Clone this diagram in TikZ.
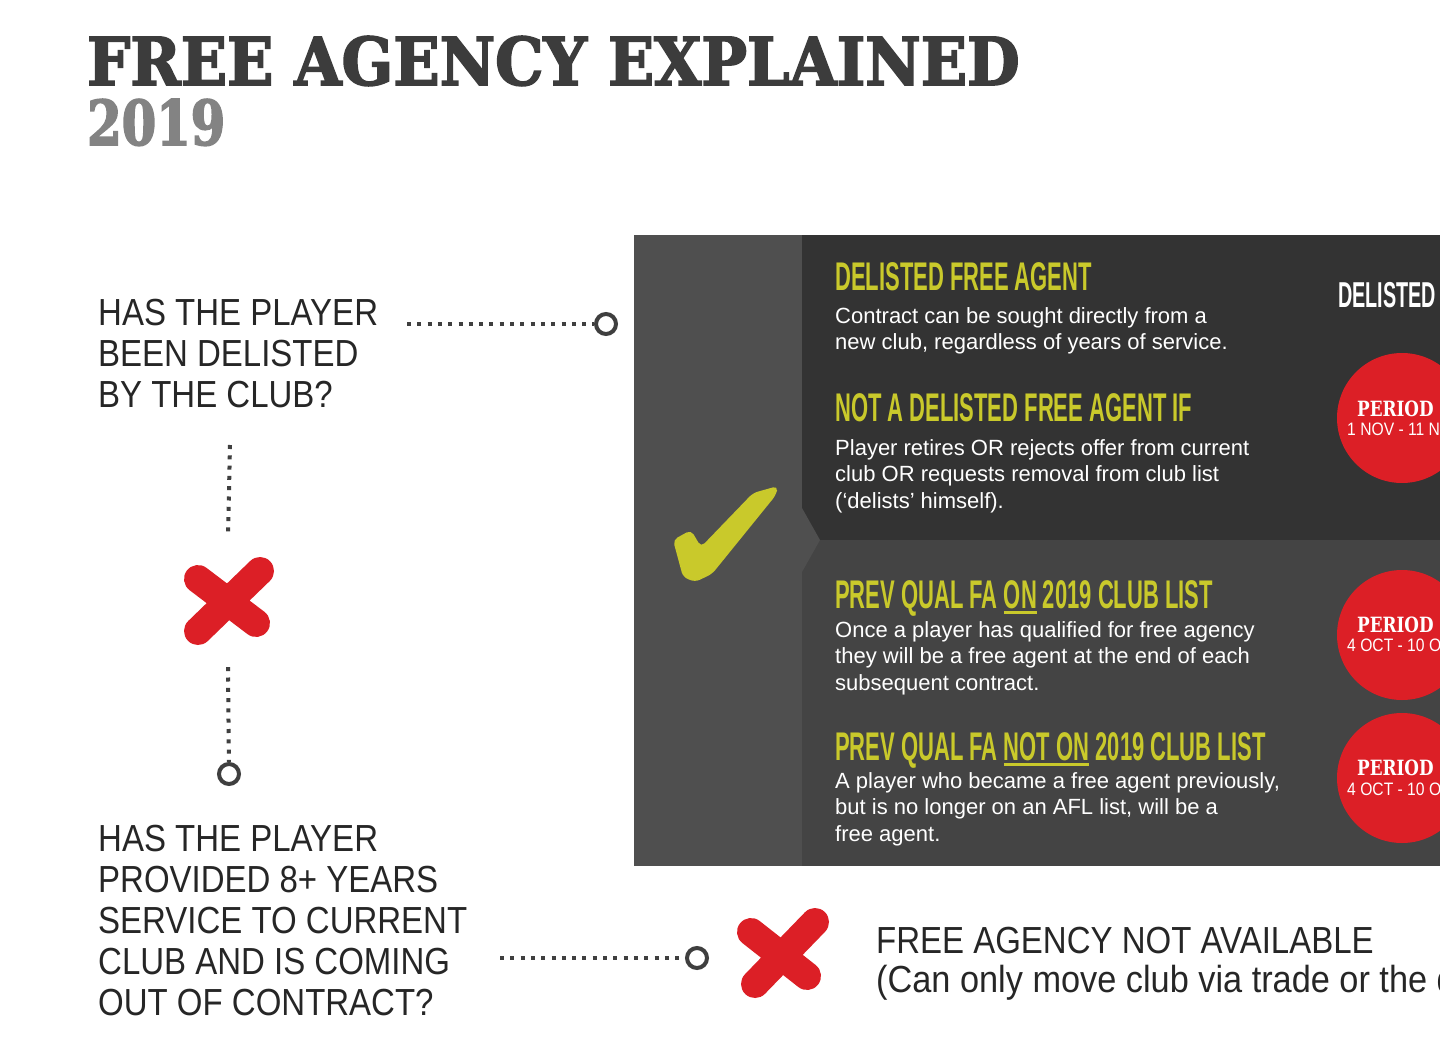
\documentclass[tikz,border=0pt]{standalone}
\usepackage{fontspec}
\setmainfont{Liberation Sans}
\newfontfamily\titlefont[FakeStretch=0.92,FakeBold=2.5]{DejaVu Serif}
\newfontfamily\yearfont[FakeStretch=0.8,FakeBold=2.5]{DejaVu Serif}
\newfontfamily\periodfont[FakeStretch=0.8]{DejaVu Serif}
\newfontfamily\headfont[FakeStretch=0.55]{Liberation Sans}
\newfontfamily\askfont[FakeStretch=0.875]{Liberation Sans}
\newfontfamily\notefont[FakeStretch=0.91]{Liberation Sans}
\newfontfamily\datefont[FakeStretch=0.87]{Liberation Sans}
\usetikzlibrary{positioning}

\definecolor{ink}{HTML}{262626}
\definecolor{titlegray}{HTML}{3C3C3C}
\definecolor{yeargray}{HTML}{838383}
\definecolor{dotgray}{HTML}{3F3F3F}
\definecolor{colgray}{HTML}{4F4F4F}
\definecolor{topgray}{HTML}{333333}
\definecolor{lowgray}{HTML}{444444}
\definecolor{agentyellow}{HTML}{C9C92B}
\definecolor{nored}{HTML}{DC1F26}

\newcommand{\ulword}[1]{\setbox0=\hbox{#1}\rlap{\rule[-6pt]{\wd0}{3pt}}\box0\relax}

\tikzset{
    title/.style={
        anchor=base west,
        inner sep=0pt,
        text=titlegray,
        font=\titlefont\bfseries\fontsize{66}{70}\selectfont
    },
    ask/.style={
        anchor=base west,
        align=left,
        inner sep=0pt,
        text=ink,
        font=\askfont\fontsize{37.7}{41}\selectfont
    },
    head/.style={
        anchor=base west,
        inner sep=0pt,
        text=agentyellow,
        font=\headfont\bfseries\fontsize{40}{46}\selectfont
    },
    body/.style={
        anchor=base west,
        align=left,
        inner sep=0pt,
        text=white,
        font=\fontsize{22}{26.5}\selectfont
    },
    ring/.style={
        circle,
        draw=dotgray,
        line width=4pt,
        minimum size=20pt,
        inner sep=0pt
    },
    dotline/.style={
        draw=dotgray,
        line width=4pt,
        dash pattern=on 4pt off 6.3pt
    },
    nomark/.style={
        draw=nored,
        line width=28pt,
        line cap=round
    },
    stamp/.style={
        circle,
        fill=nored,
        minimum size=130pt,
        inner sep=0pt
    },
    periodtxt/.style={
        anchor=base west,
        inner sep=0pt,
        text=white,
        font=\periodfont\bfseries\fontsize{21}{24}\selectfont
    },
    datetxt/.style={
        anchor=base west,
        inner sep=0pt,
        text=white,
        font=\datefont\fontsize{18}{20}\selectfont
    }
}

\begin{document}
\begin{tikzpicture}[x=1pt, y=-1pt]

    \useasboundingbox[fill=white] (0,0) rectangle (1440,1038);

    % Titulo
    \node[title] (title) at (87,85) {FREE AGENCY EXPLAINED};
    \node[title, text=yeargray,
          font=\yearfont\bfseries\fontsize{62}{66}\selectfont]
          (year) at (87,145) {2019};

    % Panel
    \fill[colgray] (634,235) rectangle (1440,866);
    \fill[topgray] (802,235) rectangle (1440,540);
    \fill[lowgray] (802,540) rectangle (1440,866);
    \fill[colgray] (802,508) -- (820,540) -- (802,572) -- cycle;

    \fill[agentyellow, rounded corners=5pt]
        (673,540) -- (691,530) -- (701,547) -- (753,493) -- (778,486)
        -- (776,495) -- (712,574) -- (695,582) -- (683,577) -- cycle;

    % Preguntas (base = ultima linea)
    \node[ask] (q1) at (98,407) {HAS THE PLAYER\\BEEN DELISTED\\BY THE CLUB?};
    \node[ask] (q2) at (98,1015)
        {HAS THE PLAYER\\PROVIDED 8+ YEARS\\SERVICE TO CURRENT\\CLUB AND IS COMING\\OUT OF CONTRACT?};

    % Anillos y cruces
    \node[ring] (c1) at (606,324) {};
    \node[ring] (c2) at (229,774) {};
    \node[ring] (c3) at (697,958) {};

    \node[inner sep=0pt, minimum width=95pt, minimum height=132pt] (x1) at (228,601) {};
    \node[inner sep=0pt, minimum width=95pt, minimum height=95pt]  (x2) at (783,954) {};

    \draw[nomark, shift={(x1.center)}] (-30,-22) -- (28,22)  (32,-30) -- (-30,30);
    \draw[nomark, shift={(x2.center)}] (-32,-22) -- (24,22)  (32,-32) -- (-28,30);

    % Conectores
    \coordinate (d1) at (407,324);
    \coordinate (v1) at (230,445);
    \coordinate (d2) at (500,958);

    \draw[dotline] (d1) -- (c1);
    \draw[dotline] (v1) -- (x1.north);
    \draw[dotline] (x1.south) -- (c2);
    \draw[dotline] (d2) -- (c3);

    % Textos del panel
    \node[head] (h1) at (835,290) {DELISTED FREE AGENT};
    \node[body] (b1) at (835,349.5)
        {Contract can be sought directly from a\\new club, regardless of years of service.};

    \node[head] (h2) at (835,421) {NOT A DELISTED FREE AGENT IF};
    \node[body] (b2) at (835,508)
        {Player retires OR rejects offer from current\\club OR requests removal from club list\\(‘delists’ himself).};

    \node[head] (h3) at (835,608) {PREV QUAL FA \ulword{ON} 2019 CLUB LIST};
    \node[body] (b3) at (835,690)
        {Once a player has qualified for free agency\\they will be a free agent at the end of each\\subsequent contract.};

    \node[head] (h4) at (835,760) {PREV QUAL FA \ulword{NOT ON} 2019 CLUB LIST};
    \node[body] (b4) at (835,841)
        {A player who became a free agent previously,\\but is no longer on an AFL list, will be a\\free agent.};

    % Periodos
    \node[head, text=white, font=\headfont\bfseries\fontsize{36}{40}\selectfont]
        (dl) at (1338,307) {DELISTED};

    \node[stamp] (p1) at (1402,418) {};
    \node[stamp] (p2) at (1402,635) {};
    \node[stamp] (p3) at (1402,778) {};

    \node[periodtxt] (t1) at (1357,416) {PERIOD};
    \node[datetxt]   (s1) at (1347,435) {1 NOV - 11 NOV};
    \node[periodtxt] (t2) at (1357,632) {PERIOD};
    \node[datetxt]   (s2) at (1347,651) {4 OCT - 10 OCT};
    \node[periodtxt] (t3) at (1357,775) {PERIOD};
    \node[datetxt]   (s3) at (1347,795) {4 OCT - 10 OCT};

    % Resultado
    \node[ask, font=\askfont\fontsize{37.7}{39}\selectfont] (na) at (876,992)
        {FREE AGENCY NOT AVAILABLE\\{\notefont (Can only move club via trade or the draft)}};

\end{tikzpicture}
\end{document}
